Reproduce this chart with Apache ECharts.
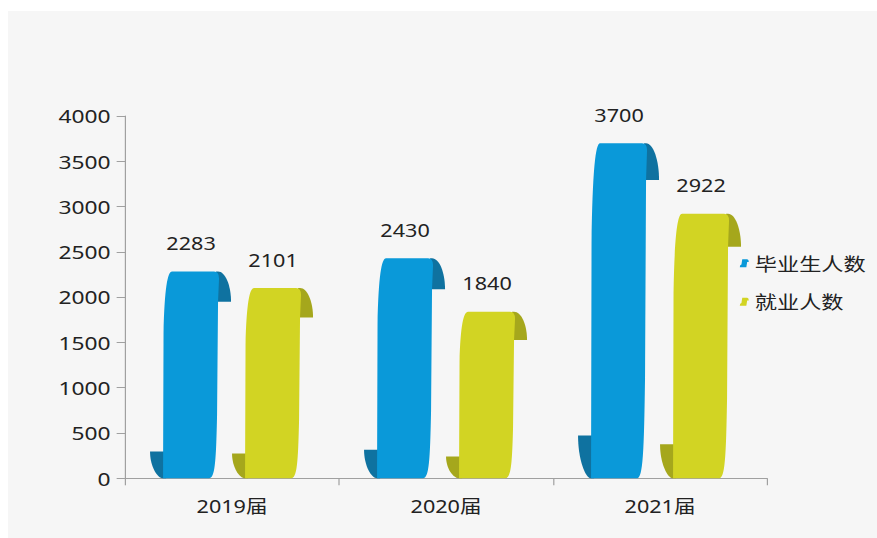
<!DOCTYPE html>
<html>
<head>
<meta charset="utf-8">
<script src="https://cdn.jsdelivr.net/npm/echarts@6/dist/echarts.min.js"></script>
<style>
  html, body { margin: 0; padding: 0; background: #ffffff; width: 877px; height: 538px; overflow: hidden; }
  #panel { position: absolute; left: 8px; top: 11px; width: 869px; height: 527px; background: #f6f6f6; }
  #chart { position: absolute; left: 0; top: 0; width: 731px; height: 538px; transform: scaleX(1.2); transform-origin: 0 0; }
</style>
</head>
<body>
<div id="panel"></div>
<div id="chart"></div>
<script>
var categories = ['2019届', '2020届', '2021届'];
var seriesNames = ['毕业生人数', '就业人数'];
var graduates = [2283, 2430, 3700];
var employed = [2101, 1840, 2922];
var yTicks = { min: 0, max: 4000, interval: 500 };

var lightColors = ['#0a99d9', '#d2d423'];
var darkColors = ['#0f72a0', '#a5a71c'];
var FONT = '"Noto Sans", "Noto Sans CJK SC", sans-serif';
var K = 0.5523;

function makeRender(si) {
  return function (params, api) {
    var cat = api.value(0), val = api.value(1);
    var base = api.coord([cat, 0]);
    var tp = api.coord([cat, val]);
    var band = api.size([1, 0])[0];
    var u = band / 214;
    var sign = si === 0 ? -1 : 1;
    var c = base[0] + sign * 41 * u;
    var y0 = base[1], y1 = tp[1];
    var h = y0 - y1;
    var tH = 20 + 0.05 * h;
    var bH = 0.125 * h + 1;
    var X = function (d) { return (c + d * u).toFixed(2); };
    var Y = function (v) { return v.toFixed(2); };

    var topCurl = 'M' + X(25) + ' ' + Y(y1) +
      ' L' + X(27) + ' ' + Y(y1) +
      ' C' + X(27 + 13 * K) + ' ' + Y(y1) + ' ' + X(40) + ' ' + Y(y1 + tH - tH * K) + ' ' + X(40) + ' ' + Y(y1 + tH) +
      ' L' + X(25) + ' ' + Y(y1 + tH) + ' Z';
    var botCurl = 'M' + X(-25) + ' ' + Y(y0 - bH) +
      ' L' + X(-41) + ' ' + Y(y0 - bH) +
      ' C' + X(-41) + ' ' + Y(y0 - bH + bH * K) + ' ' + X(-41 + 13 * K) + ' ' + Y(y0) + ' ' + X(-28) + ' ' + Y(y0) +
      ' L' + X(-25) + ' ' + Y(y0) + ' Z';
    var body = 'M' + X(-19) + ' ' + Y(y1) +
      ' L' + X(23) + ' ' + Y(y1) +
      ' Q' + X(28) + ' ' + Y(y1) + ' ' + X(28) + ' ' + Y(y1 + 7) +
      ' L' + X(27) + ' ' + Y(y1 + tH) +
      ' L' + X(26) + ' ' + Y(y0 - 0.3 * h) +
      ' C' + X(25) + ' ' + Y(y0 - 0.08 * h) + ' ' + X(24) + ' ' + Y(y0) + ' ' + X(18) + ' ' + Y(y0) +
      ' L' + X(-28) + ' ' + Y(y0) +
      ' L' + X(-27.5) + ' ' + Y(y1 + 0.3 * h) +
      ' C' + X(-26.5) + ' ' + Y(y1 + 0.08 * h) + ' ' + X(-23.5) + ' ' + Y(y1) + ' ' + X(-19) + ' ' + Y(y1) + ' Z';

    return {
      type: 'group',
      children: [
        { type: 'path', shape: { pathData: topCurl }, style: { fill: darkColors[si] } },
        { type: 'path', shape: { pathData: botCurl }, style: { fill: darkColors[si] } },
        { type: 'path', shape: { pathData: body }, style: { fill: lightColors[si] } },
        {
          type: 'text', x: c, y: y1 - 28,
          style: {
            text: String(val), fill: '#222222',
            font: '18px ' + FONT, align: 'center', verticalAlign: 'middle'
          }
        }
      ]
    };
  };
}

function toData(arr) {
  return arr.map(function (v, i) { return [i, v]; });
}

var chart = echarts.init(document.getElementById('chart'), null, { renderer: 'svg' });
chart.setOption({
  backgroundColor: 'transparent',
  animation: false,
  textStyle: { fontFamily: FONT },
  grid: { left: 104.2, right: 91.8, top: 116, bottom: 59.7, containLabel: false },
  legend: {
    orient: 'vertical',
    left: 611.5,
    top: 249,
    itemWidth: 7.5,
    itemHeight: 10,
    itemGap: 20,
    icon: 'path://M3,0 L9,0 Q11,0 11,4 L9,4 L8,12 L0,12 Q0,8 2,8 Z',
    textStyle: { fontSize: 18.5, color: '#222222', fontFamily: FONT },
    data: seriesNames
  },
  xAxis: {
    type: 'category',
    data: categories,
    boundaryGap: true,
    axisLine: { show: true, lineStyle: { color: '#a0a0a0', width: 1 } },
    axisTick: { show: true, length: 7, alignWithLabel: false, lineStyle: { color: '#a0a0a0' } },
    axisLabel: { fontSize: 18, color: '#222222', margin: 19, fontFamily: FONT },
    splitLine: { show: false }
  },
  yAxis: {
    type: 'value',
    min: yTicks.min, max: yTicks.max, interval: yTicks.interval,
    axisLine: { show: true, lineStyle: { color: '#a0a0a0', width: 1 } },
    axisTick: { show: true, length: 7, lineStyle: { color: '#a0a0a0' } },
    axisLabel: {
      fontSize: 19, color: '#222222', margin: 12, fontFamily: FONT,
      formatter: function (v) { return String(v); }
    },
    splitLine: { show: false }
  },
  series: [
    {
      name: seriesNames[0], type: 'custom', renderItem: makeRender(0),
      itemStyle: { color: lightColors[0] },
      encode: { x: 0, y: 1 }, data: toData(graduates)
    },
    {
      name: seriesNames[1], type: 'custom', renderItem: makeRender(1),
      itemStyle: { color: lightColors[1] },
      encode: { x: 0, y: 1 }, data: toData(employed)
    }
  ]
});
</script>
</body>
</html>
